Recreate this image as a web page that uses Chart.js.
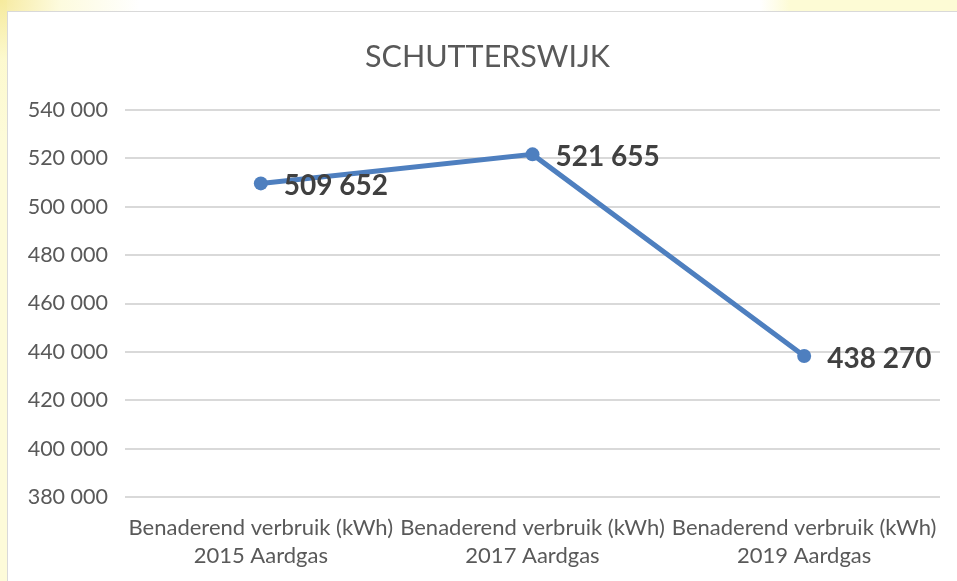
<!DOCTYPE html>
<html lang="nl">
<head>
    <meta charset="UTF-8">
    <title>Schutterswijk</title>
    <script src="https://cdn.jsdelivr.net/npm/chart.js@4.4.1/dist/chart.umd.min.js"></script>
    <style>
        html, body { margin: 0; padding: 0; }
        body {
            width: 957px; height: 581px; overflow: hidden; position: relative;
            background:
                radial-gradient(circle at 0 0, rgba(245, 232, 150, 0.9) 0, rgba(252, 248, 200, 0.6) 60px, rgba(255, 255, 230, 0) 140px),
                linear-gradient(to right, #fdfbd9 0, #fdfbd9 7px, #ffffff 7px);
        }
        .glow {
            position: absolute; left: 760px; top: 0; width: 197px; height: 11px;
            background: linear-gradient(to right, rgba(253, 251, 215, 0), #fdfbd5 30px, #fdfbd5);
        }
        .box {
            position: absolute; left: 7px; top: 11px; width: 960px; height: 580px;
            border: 1px solid #d9d9d9; background: #ffffff;
        }
        canvas { position: absolute; left: 0; top: 0; }
    </style>
</head>
<body>
    <div class="glow"></div>
    <div class="box">
        <canvas id="chart" width="949" height="570"></canvas>
    </div>

    <script>
        const chartTitle = 'SCHUTTERSWIJK'
        const categories = [
            ['Benaderend verbruik (kWh)', '2015 Aardgas'],
            ['Benaderend verbruik (kWh)', '2017 Aardgas'],
            ['Benaderend verbruik (kWh)', '2019 Aardgas']
        ]
        const verbruik = [509652, 521655, 438270]
        const yMin = 380000
        const yMax = 540000
        const yStep = 20000

        // 509652 -> "509 652"
        function spaced(v) {
            return String(v).replace(/\B(?=(\d{3})+(?!\d))/g, ' ')
        }

        // title sits centred on the whole frame, a bit right of the canvas middle
        const heading = {
            id: 'heading',
            afterDraw(chart) {
                const ctx = chart.ctx
                ctx.save()
                ctx.font = '30.5px Lato'
                ctx.fillStyle = '#595959'
                ctx.textAlign = 'center'
                ctx.textBaseline = 'middle'
                ctx.fillText(chartTitle, chart.width / 2 + 5, 45)
                ctx.restore()
            }
        }

        // values written next to each point
        const pointLabels = {
            id: 'pointLabels',
            afterDatasetsDraw(chart) {
                const ctx = chart.ctx
                const meta = chart.getDatasetMeta(0)
                ctx.save()
                ctx.font = 'bold 28px Lato'
                ctx.fillStyle = '#404040'
                ctx.textAlign = 'left'
                ctx.textBaseline = 'middle'
                meta.data.forEach((pt, i) => {
                    ctx.fillText(spaced(verbruik[i]), pt.x + 23, pt.y + 3)
                })
                ctx.restore()
            }
        }

        const ctx = document.getElementById('chart').getContext('2d')

        const myChart = new Chart(ctx, {
            type: 'line',
            data: {
                labels: categories,
                datasets: [{
                    label: 'Schutterswijk',
                    data: verbruik,
                    borderColor: '#4e7fbf',
                    backgroundColor: '#4e7fbf',
                    borderWidth: 5,
                    pointRadius: 7,
                    pointBorderWidth: 0,
                    fill: false,
                    tension: 0
                }]
            },
            options: {
                responsive: false,
                animation: false,
                layout: { padding: { top: 98, right: 17, bottom: 0, left: 0 } },
                plugins: {
                    legend: { display: false },
                    tooltip: { enabled: false },
                    title: { display: false }
                },
                scales: {
                    x: {
                        offset: true,
                        afterFit(scale) { scale.height = 85 },
                        grid: { display: false, drawTicks: false },
                        border: { display: false },
                        ticks: {
                            color: '#595959',
                            font: { family: 'Lato', size: 22, lineHeight: 1.27 },
                            padding: 17,
                            maxRotation: 0,
                            autoSkip: false
                        }
                    },
                    y: {
                        min: yMin,
                        max: yMax,
                        afterFit(scale) { scale.width = 117 },
                        grid: { color: '#d9d9d9', lineWidth: 2, drawTicks: false },
                        border: { display: false },
                        ticks: {
                            stepSize: yStep,
                            color: '#595959',
                            font: { family: 'Lato', size: 21.5 },
                            padding: 17,
                            callback: (v) => spaced(v)
                        }
                    }
                }
            },
            plugins: [pointLabels, heading]
        })
    </script>
</body>
</html>
